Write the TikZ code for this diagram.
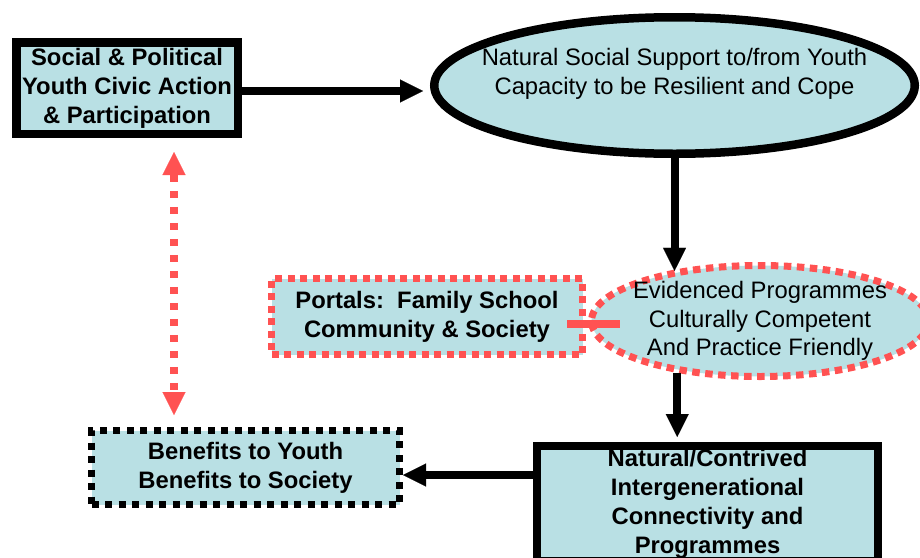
\documentclass[tikz,border=0pt]{standalone}
\usepackage{fontspec}
\setmainfont{Liberation Sans}
\usepackage{xcolor}
\usepackage{tikz}
\usetikzlibrary{arrows.meta,shapes.geometric}
\definecolor{paleteal}{RGB}{185, 224, 228}
\definecolor{softred}{RGB}{255, 82, 82}

\begin{document}
\begin{tikzpicture}[x=1pt, y=1pt,
    plaintxt/.style={font=\fontsize{23.8}{28.5}\selectfont, align=center},
    boldtxt/.style={font=\fontsize{23.8}{29}\selectfont\bfseries, align=center},
    solidbox/.style={boldtxt, rectangle, draw=black, fill=paleteal, line width=8.5pt, inner sep=0pt},
    redbox/.style={boldtxt, rectangle, draw=softred, fill=paleteal, line width=7pt, inner sep=0pt, dash pattern=on 7pt off 5.5pt},
    dashbox/.style={boldtxt, rectangle, draw=black, fill=paleteal, line width=7pt, inner sep=0pt, dash pattern=on 7pt off 6.5pt},
    solidoval/.style={plaintxt, ellipse, draw=black, fill=paleteal, line width=8.5pt, inner xsep=-30pt, inner ysep=0pt},
    dotoval/.style={plaintxt, ellipse, draw=softred, fill=paleteal, line width=7pt, inner xsep=-20pt, inner ysep=-5pt, dash pattern=on 7.5pt off 5.5pt},
    arr/.style={line width=8pt, -{Triangle[length=23pt, width=23pt, line width=0.1pt]}},
    redarr/.style={draw=softred, line width=8pt, dash pattern=on 7pt off 9pt,
        {Triangle[length=23pt, width=23pt, line width=0.1pt]}-{Triangle[length=23pt, width=23pt, line width=0.1pt]}},
    redbar/.style={draw=softred, line width=8pt}
]
    \useasboundingbox (0,0) rectangle (920,-557);

    % Top row
    \node[solidbox, minimum width=221.5pt, minimum height=91.5pt] (soc) at (127,-88)
        {Social \& Political\\Youth Civic Action\\\& Participation};
    \node[solidoval, minimum width=480.5pt, minimum height=136.5pt] (sup) at (674.5,-85.5)
        {Natural Social Support to/from Youth\\Capacity to be Resilient and Cope\\\mbox{}};

    % Middle row
    \node[redbox, minimum width=311pt, minimum height=76pt] (portal) at (427,-316.5)
        {Portals:\ \ Family School\\Community \& Society};
    \node[dotoval, minimum width=337pt, minimum height=111pt] (evid) at (760,-321)
        {Evidenced Programmes\\Culturally Competent\\And Practice Friendly};

    % Bottom row
    \node[dashbox, minimum width=308pt, minimum height=74pt] (ben) at (245.5,-467.5)
        {Benefits to Youth\\Benefits to Society};
    \node[solidbox, line width=8pt, minimum width=341pt, minimum height=115pt] (nat) at (707.5,-503.5)
        {Natural/Contrived\\Intergenerational\\Connectivity and\\Programmes};

    % Flow
    \coordinate (supin) at ([yshift=-5.5pt]sup.west);
    \coordinate (benin) at ([yshift=-7.5pt]ben.east);
    \coordinate (link) at ([xshift=47pt]soc.south);
    \draw[arr, shorten >=7pt] (soc.east |- supin) -- (supin);
    \draw[arr] (sup.south) -- (sup.south |- evid.151);
    \draw[arr, shorten >=5pt] (evid.212) -- (evid.212 |- nat.north);
    \draw[arr] (nat.west |- benin) -- (benin);
    \draw[redarr, shorten <=14pt, shorten >=12pt] (link) -- (link |- ben.north);
    \draw[redbar] ([shift={(-19pt,-7.5pt)}]portal.east) -- ([shift={(32pt,-3pt)}]evid.west);
\end{tikzpicture}
\end{document}
